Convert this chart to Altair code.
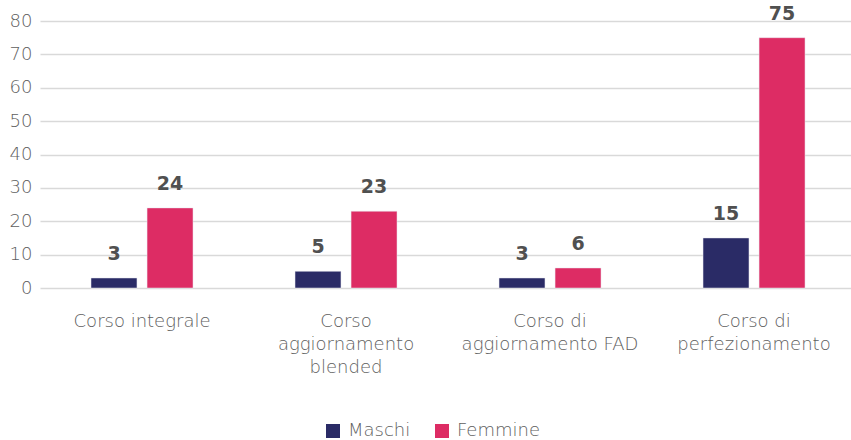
import altair as alt
import pandas as pd

categories = ["Corso integrale", "Corso aggiornamento blended", "Corso di aggiornamento FAD", "Corso di perfezionamento"]
label_lines = [["Corso integrale"], ["Corso", "aggiornamento", "blended"], ["Corso di", "aggiornamento FAD"], ["Corso di", "perfezionamento"]]
maschi = [3, 5, 3, 15]
femmine = [24, 23, 6, 75]
series = ["Maschi", "Femmine"]
colors = ["#2a2b66", "#dd2c64"]

rows = []
for i, c in enumerate(categories):
    rows.append({"cat": c, "serie": "Maschi", "val": maschi[i], "ord": 0})
    rows.append({"cat": c, "serie": "Femmine", "val": femmine[i], "ord": 1})
df = pd.DataFrame(rows)

label_expr = "{" + ", ".join(
    f"'{c}': {label_lines[i]!r}" for i, c in enumerate(categories)
) + "}[datum.value]"

FONT = "DejaVu Sans"
GREY = "#5e5e5e"

x = alt.X("cat:N", sort=categories, title=None,
          scale=alt.Scale(paddingInner=0.5, paddingOuter=0.2377, align=0.526),
          axis=alt.Axis(labelAngle=0, labelExpr=label_expr, labelFont=FONT,
                        labelFontSize=18, labelFontWeight=200, labelColor=GREY,
                        labelLineHeight=23, labelPadding=24, ticks=False,
                        domain=False, labelBaseline="top"))
xo = alt.XOffset("serie:N", sort=series,
                 scale=alt.Scale(paddingInner=0.18, paddingOuter=0))
y = alt.Y("val:Q", title=None,
          scale=alt.Scale(domain=[0, 80]),
          axis=alt.Axis(values=list(range(0, 81, 10)), labelFont=FONT,
                        labelFontSize=18, labelFontWeight=200, labelColor=GREY,
                        labelPadding=8, ticks=False, domain=False,
                        gridColor="#d9d9d9", gridWidth=1.5))

bars = alt.Chart(df).mark_bar(stroke="#e8e8f0", strokeWidth=0.5).encode(
    x=x, xOffset=xo, y=y,
    color=alt.Color("serie:N", sort=series, title=None,
                    scale=alt.Scale(domain=series, range=colors),
                    legend=alt.Legend(orient="none", legendX=284, legendY=401,
                                      direction="horizontal", symbolType="square",
                                      symbolSize=196, symbolStrokeWidth=0,
                                      labelFont=FONT, labelFontSize=18,
                                      labelFontWeight=200, labelColor=GREY,
                                      labelOffset=6, columnPadding=22)),
)

texts = alt.Chart(df).mark_text(baseline="bottom", dy=-14, font=FONT,
                                fontSize=19, fontWeight="bold", color="#505050").encode(
    x=x, xOffset=xo, y=y, text="val:Q"
)

chart = (bars + texts).properties(
    width=811, height=267,
    padding={"left": 40, "top": 21, "right": 0, "bottom": 152},
    autosize=alt.AutoSizeParams(type="none"),
).configure_view(stroke=None)

chart.save("out.html", embed_options={"renderer": "svg", "actions": False})
